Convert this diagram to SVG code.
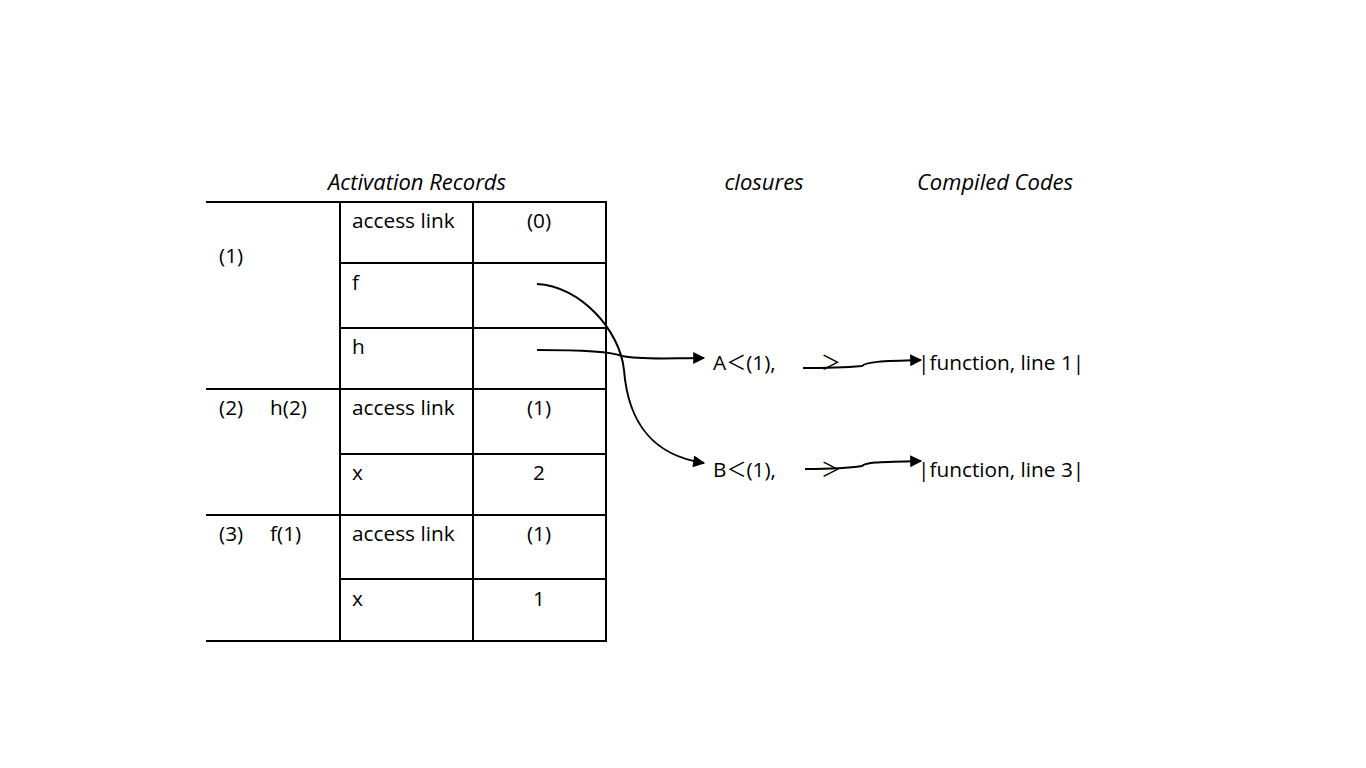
<svg xmlns="http://www.w3.org/2000/svg" width="1366" height="768" viewBox="0 0 1366 768">
<style>
.t{font-family:"Open Sans","Noto Sans","Noto Sans CJK SC",sans-serif;font-size:20.8px;fill:#000}
.i{font-style:italic;font-size:22px}
.m{text-anchor:middle}
.w{font-family:"Noto Sans CJK SC",sans-serif;font-size:20px}
.g line{stroke:#000;stroke-width:2}
.c path{fill:none;stroke:#000;stroke-width:2}
</style>
<defs>
<marker id="ah" viewBox="0 0 10 10" refX="9" refY="5" markerWidth="14" markerHeight="12" markerUnits="userSpaceOnUse" orient="auto">
<path d="M0,0 L10,5 L0,10 Z" fill="#000"/>
</marker>
</defs>
<rect width="1366" height="768" fill="#fff"/>
<text class="t i m" x="417" y="190">Activation Records</text>
<text class="t i m" x="764" y="190">closures</text>
<text class="t i m" x="995" y="190">Compiled Codes</text>
<g id="table" class="g">
<line x1="206" y1="202" x2="607" y2="202"/>
<line x1="340" y1="263" x2="607" y2="263"/>
<line x1="340" y1="328" x2="607" y2="328"/>
<line x1="206" y1="389" x2="607" y2="389"/>
<line x1="340" y1="454" x2="607" y2="454"/>
<line x1="206" y1="515" x2="607" y2="515"/>
<line x1="340" y1="579" x2="607" y2="579"/>
<line x1="206" y1="641" x2="607" y2="641"/>
<line x1="340" y1="202" x2="340" y2="641"/>
<line x1="473" y1="202" x2="473" y2="641"/>
<line x1="606" y1="202" x2="606" y2="641"/>
</g>
<g id="record1">
<text class="t" x="219" y="263">(1)</text>
<text class="t" x="352" y="228">access link</text>
<text class="t m" x="539" y="228">(0)</text>
<text class="t" x="352" y="290">f</text>
<text class="t" x="352" y="354">h</text>
</g>
<g id="record2">
<text class="t" x="219" y="415">(2)</text>
<text class="t" x="270" y="415">h(2)</text>
<text class="t" x="352" y="415">access link</text>
<text class="t m" x="539" y="415">(1)</text>
<text class="t" x="352" y="480">x</text>
<text class="t m" x="539" y="480">2</text>
</g>
<g id="record3">
<text class="t" x="219" y="541">(3)</text>
<text class="t" x="270" y="541">f(1)</text>
<text class="t" x="352" y="541">access link</text>
<text class="t m" x="539" y="541">(1)</text>
<text class="t" x="352" y="606">x</text>
<text class="t m" x="539" y="606">1</text>
</g>
<g id="closureA">
<text class="t" x="713" y="370">A<tspan class="w">＜</tspan>(1),</text>
<text class="t w" x="821" y="370">＞</text>
</g>
<g id="closureB">
<text class="t" x="713" y="477">B<tspan class="w">＜</tspan>(1),</text>
<text class="t w" x="821" y="477">＞</text>
</g>
<g id="code1"><text class="t" x="918" y="370">|function, line 1|</text></g>
<g id="code3"><text class="t" x="918" y="477">|function, line 3|</text></g>
<g id="connectors" class="c">
<path d="M537,284 C580,286 620,330 624,370 C628,420 650,455 704,463" marker-end="url(#ah)"/>
<path d="M537,350 C580,350 610,351 622,356 C640,360 670,358 704,358" marker-end="url(#ah)"/>
<path d="M803,368 C830,368 850,367 862,366 C866,362 880,361 921,360" marker-end="url(#ah)"/>
<path d="M805,469 C830,469 850,468 862,466 C866,462 880,462 921,461" marker-end="url(#ah)"/>
</g>
</svg>
